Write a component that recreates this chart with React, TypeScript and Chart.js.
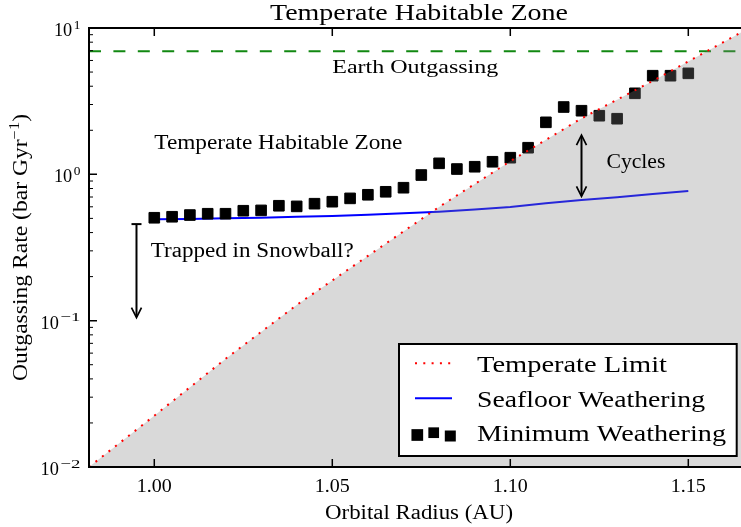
import React, { useEffect, useRef } from "react";
import { Chart, registerables } from "chart.js";

Chart.register(...registerables);

// ---------- axis ranges & ticks ----------
const X_MIN = 0.98166;
const X_MAX = 1.16705;
const Y_MIN = 0.01;
const Y_MAX = 10;

const xTickValues = [1.0, 1.05, 1.1, 1.15];
const xTickLabels = ["1.00", "1.05", "1.10", "1.15"];
const yTickValues = [0.01, 0.1, 1, 10];
const yTickExponents = ["\u22122", "\u22121", "0", "1"];

// ---------- data ----------
const minWeatheringRadius = [
  1.0, 1.005, 1.01, 1.015, 1.02, 1.025, 1.03, 1.035, 1.04, 1.045, 1.05, 1.055,
  1.06, 1.065, 1.07, 1.075, 1.08, 1.085, 1.09, 1.095, 1.1, 1.105, 1.11, 1.115,
  1.12, 1.125, 1.13, 1.135, 1.14, 1.145, 1.15,
];
const minWeatheringRate = [
  0.505, 0.513, 0.527, 0.538, 0.538, 0.564, 0.567, 0.61, 0.604, 0.63, 0.65,
  0.685, 0.725, 0.76, 0.81, 0.989, 1.189, 1.087, 1.127, 1.219, 1.299, 1.52,
  2.267, 2.884, 2.721, 2.515, 2.399, 3.578, 4.721, 4.721, 4.9,
];

const seafloorRadius = [
  1.0, 1.01, 1.02, 1.03, 1.04, 1.05, 1.06, 1.07, 1.08, 1.09, 1.1, 1.11, 1.12,
  1.13, 1.14, 1.15,
];
const seafloorRate = [
  0.4925, 0.4956, 0.5004, 0.5058, 0.5123, 0.5197, 0.5304, 0.5414, 0.5559,
  0.5746, 0.5977, 0.6334, 0.6683, 0.6964, 0.7335, 0.77,
];

const temperateRadius = [
  0.98166, 1.0, 1.02, 1.04, 1.06, 1.08, 1.1, 1.12, 1.14, 1.16, 1.16705,
];
const temperateRate = [
  0.01, 0.0224, 0.0548, 0.128, 0.277, 0.599, 1.23, 2.41, 4.35, 8.03, 10.0,
];

const earthRadius = [X_MIN, X_MAX];
const earthRate = [6.93, 6.93];

// annotations (data coordinates)
const textNotes = [
  { text: "Earth Outgassing", x: 1.05, y: 4.9, size: 19.5, width: 166 },
  { text: "Temperate Habitable Zone", x: 1.0, y: 1.5, size: 20, width: 248 },
  { text: "Cycles", x: 1.127, y: 1.1, size: 20.5, width: 59 },
  { text: "Trapped in Snowball?", x: 0.999, y: 0.273, size: 20.5, width: 203 },
];
const cyclesArrow = { x: 1.12, y1: 1.85, y2: 0.708 };
const snowballArrow = { x: 0.995, y1: 0.457, y2: 0.105 };

const zip = (xs: number[], ys: number[]) => xs.map((x, i) => ({ x, y: ys[i] }));

const FONT = "'Liberation Serif', 'DejaVu Serif', serif";

function fitText(
  ctx: CanvasRenderingContext2D,
  text: string,
  x: number,
  y: number,
  size: number,
  width: number | null,
  align: "left" | "center" | "right" = "left"
) {
  ctx.font = `${size}px ${FONT}`;
  const w = ctx.measureText(text).width || 1;
  const s = width ? width / w : 1;
  const tw = w * s;
  const x0 = align === "left" ? x : align === "center" ? x - tw / 2 : x - tw;
  ctx.save();
  ctx.translate(x0, y);
  ctx.scale(s, 1);
  ctx.textAlign = "left";
  ctx.textBaseline = "alphabetic";
  ctx.fillText(text, 0, 0);
  ctx.restore();
  return tw;
}

function head(ctx: CanvasRenderingContext2D, x: number, y: number, dir: number) {
  // dir = +1 pointing down, -1 pointing up
  const len = 10;
  const half = 5;
  ctx.beginPath();
  ctx.moveTo(x - half, y - dir * len);
  ctx.lineTo(x, y);
  ctx.lineTo(x + half, y - dir * len);
  ctx.stroke();
}

const decorPlugin = {
  id: "decor",
  afterDraw(chart: any) {
    const ctx: CanvasRenderingContext2D = chart.ctx;
    const { left, right, top, bottom } = chart.chartArea;
    const xs = chart.scales.x;
    const ys = chart.scales.y;
    const px = (v: number) => xs.getPixelForValue(v);
    const py = (v: number) => ys.getPixelForValue(v);
    ctx.save();
    ctx.fillStyle = "#000";
    ctx.strokeStyle = "#000";

    // ---- annotations: arrows ----
    ctx.lineWidth = 2;
    ctx.lineCap = "butt";
    {
      const x = px(cyclesArrow.x);
      const a = py(cyclesArrow.y1);
      const b = py(cyclesArrow.y2);
      ctx.beginPath();
      ctx.moveTo(x, a + 1);
      ctx.lineTo(x, b - 1);
      ctx.stroke();
      ctx.lineWidth = 1.7;
      head(ctx, x, a, -1);
      head(ctx, x, b, 1);
    }
    {
      ctx.lineWidth = 2;
      const x = px(snowballArrow.x);
      const a = py(snowballArrow.y1);
      const b = py(snowballArrow.y2);
      ctx.beginPath();
      ctx.moveTo(x, a);
      ctx.lineTo(x, b - 1);
      ctx.stroke();
      ctx.beginPath();
      ctx.moveTo(x - 5, a);
      ctx.lineTo(x + 5, a);
      ctx.stroke();
      ctx.lineWidth = 1.7;
      head(ctx, x, b, 1);
    }

    // ---- annotation texts ----
    for (const n of textNotes) {
      fitText(ctx, n.text, px(n.x), py(n.y), n.size, n.width, "left");
    }

    // ---- spines ----
    ctx.lineWidth = 2;
    ctx.strokeRect(left, top, right - left, bottom - top);

    // ---- ticks ----
    ctx.lineWidth = 1.5;
    ctx.beginPath();
    for (const v of xTickValues) {
      const x = px(v);
      ctx.moveTo(x, bottom);
      ctx.lineTo(x, bottom - 8);
      ctx.moveTo(x, top);
      ctx.lineTo(x, top + 8);
    }
    for (const v of yTickValues) {
      const y = py(v);
      ctx.moveTo(left, y);
      ctx.lineTo(left + 8, y);
      ctx.moveTo(right, y);
      ctx.lineTo(right - 8, y);
    }
    ctx.stroke();
    ctx.lineWidth = 1;
    ctx.beginPath();
    for (let d = 0; d < yTickValues.length - 1; d++) {
      for (let m = 2; m <= 9; m++) {
        const y = py(yTickValues[d] * m);
        ctx.moveTo(left, y);
        ctx.lineTo(left + 4, y);
        ctx.moveTo(right, y);
        ctx.lineTo(right - 4, y);
      }
    }
    ctx.stroke();

    // ---- tick labels ----
    xTickValues.forEach((v, i) => {
      fitText(ctx, xTickLabels[i], px(v), 491.7, 18.5, 35, "center");
    });
    yTickValues.forEach((v, i) => {
      const y = py(v);
      const exp = yTickExponents[i];
      const supW = exp.length > 1 ? 20 : 6.7;
      const rightX = 80.5;
      fitText(ctx, exp, rightX, y + 0.5, 13.5, supW, "right");
      fitText(ctx, "10", rightX - supW - 1.6, y + 8, 19, 18.3, "right");
    });

    // ---- axis titles ----
    const cx = (left + right) / 2;
    fitText(ctx, "Orbital Radius (AU)", cx, 519, 20, 188, "center");
    fitText(ctx, "Temperate Habitable Zone", cx, 19.5, 23, 298, "center");

    {
      const main = "Outgassing Rate (bar Gyr";
      const sup = "\u22121";
      const close = ")";
      ctx.save();
      ctx.translate(26.7, (top + bottom) / 2);
      ctx.rotate(-Math.PI / 2);
      ctx.font = `20px ${FONT}`;
      const w1 = ctx.measureText(main).width;
      const w3 = ctx.measureText(close).width;
      ctx.font = `14px ${FONT}`;
      const w2 = ctx.measureText(sup).width;
      const total = w1 + w2 + w3;
      const s = 267 / total;
      ctx.scale(s, 1);
      ctx.textAlign = "left";
      ctx.textBaseline = "alphabetic";
      ctx.font = `20px ${FONT}`;
      ctx.fillText(main, -total / 2, 0);
      ctx.fillText(close, -total / 2 + w1 + w2, 0);
      ctx.font = `14px ${FONT}`;
      ctx.fillText(sup, -total / 2 + w1, -8);
      ctx.restore();
    }

    // ---- legend ----
    const lw = 337.7;
    const lh = 112;
    const lx = right - 12.3 - lw;
    const ly = bottom - 11 - lh;
    ctx.fillStyle = "#fff";
    ctx.fillRect(lx, ly, lw, lh);
    ctx.lineWidth = 2;
    ctx.strokeStyle = "#000";
    ctx.strokeRect(lx, ly, lw, lh);

    const ds = chart.data.datasets;
    const hx0 = lx + 16;
    const hx1 = lx + 53;
    const tx = lx + 78;
    // row 1: dotted red
    ctx.save();
    ctx.strokeStyle = ds[0].borderColor;
    ctx.lineWidth = ds[0].borderWidth;
    ctx.setLineDash(ds[0].borderDash);
    ctx.beginPath();
    ctx.moveTo(hx0, ly + 19.3);
    ctx.lineTo(hx1, ly + 19.3);
    ctx.stroke();
    ctx.restore();
    // row 2: blue line
    ctx.save();
    ctx.strokeStyle = ds[1].borderColor;
    ctx.lineWidth = ds[1].borderWidth;
    ctx.beginPath();
    ctx.moveTo(hx0, ly + 54.3);
    ctx.lineTo(hx1, ly + 54.3);
    ctx.stroke();
    ctx.restore();
    // row 3: three squares
    ctx.fillStyle = "#000";
    const sq = [
      { dx: 18.3, dy: 91, s: 11.7 },
      { dx: 34.7, dy: 88.7, s: 10.7 },
      { dx: 51.3, dy: 92, s: 11 },
    ];
    for (const q of sq) {
      ctx.fillRect(lx + q.dx - q.s / 2, ly + q.dy - q.s / 2, q.s, q.s);
    }
    ctx.fillStyle = "#000";
    fitText(ctx, ds[0].label, tx, ly + 27.7, 24, 190, "left");
    fitText(ctx, ds[1].label, tx, ly + 62.7, 24, 228, "left");
    fitText(ctx, ds[2].label, tx, ly + 96.7, 24, 249, "left");

    ctx.restore();
  },
};

export default function App() {
  const ref = useRef<HTMLCanvasElement>(null);
  useEffect(() => {
    if (!ref.current) return;
    const chart = new Chart(ref.current, {
      type: "line",
      data: {
        datasets: [
          {
            label: "Temperate Limit",
            data: zip(temperateRadius, temperateRate),
            borderColor: "#ff0000",
            borderWidth: 2,
            borderDash: [2, 6.3],
            borderCapStyle: "butt",
            pointRadius: 0,
            tension: 0,
            fill: "start",
            backgroundColor: "rgba(128,128,128,0.3)",
            order: 0,
          },
          {
            label: "Seafloor Weathering",
            data: zip(seafloorRadius, seafloorRate),
            borderColor: "#0000ff",
            borderWidth: 2,
            pointRadius: 0,
            tension: 0,
            fill: false,
            order: 2,
          },
          {
            label: "Minimum Weathering",
            data: zip(minWeatheringRadius, minWeatheringRate),
            showLine: false,
            pointStyle: "rect",
            pointRadius: 7.5,
            pointBorderWidth: 1,
            pointBackgroundColor: "#000",
            pointBorderColor: "#000",
            fill: false,
            order: 1,
          },
          {
            label: "Earth Outgassing",
            data: zip(earthRadius, earthRate),
            borderColor: "#118811",
            borderWidth: 2,
            borderDash: [12, 12.4],
            borderCapStyle: "butt",
            pointRadius: 0,
            fill: false,
            order: 3,
          },
        ] as any,
      },
      options: {
        animation: false,
        responsive: false,
        devicePixelRatio: 1,
        events: [],
        layout: { padding: { left: 89, right: 11, top: 28, bottom: 60 } },
        scales: {
          x: { type: "linear", min: X_MIN, max: X_MAX, display: false },
          y: { type: "logarithmic", min: Y_MIN, max: Y_MAX, display: false },
        },
        plugins: {
          legend: { display: false },
          tooltip: { enabled: false },
          title: { display: false },
          filler: { drawTime: "beforeDatasetDraw", propagate: false },
        } as any,
      } as any,
      plugins: [decorPlugin],
    });
    return () => chart.destroy();
  }, []);
  return (
    <div
      style={{
        position: "absolute",
        left: 0,
        top: 0,
        width: 741,
        height: 527,
        overflow: "hidden",
        background: "#fff",
      }}
    >
      <canvas
        ref={ref}
        width={760}
        height={527}
        style={{ display: "block", width: 760, height: 527 }}
      />
    </div>
  );
}
